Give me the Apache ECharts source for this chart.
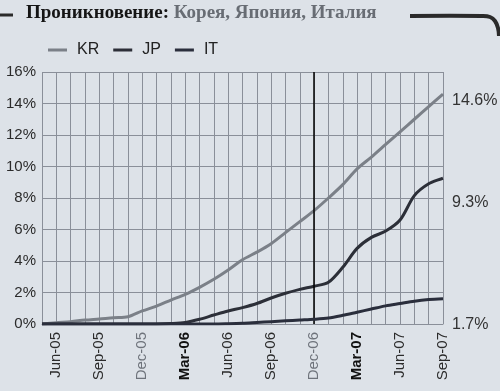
<!DOCTYPE html>
<html>
<head>
<meta charset="utf-8">
<script src="https://cdn.jsdelivr.net/npm/echarts@6/dist/echarts.min.js"></script>
<style>
html,body{margin:0;padding:0;background:#dde2e8;}
#chart{width:500px;height:391px;}
</style>
</head>
<body>
<div id="chart"></div>
<script>
const months = ['May-05','Jun-05','Jul-05','Aug-05','Sep-05','Oct-05','Nov-05','Dec-05',
  'Jan-06','Feb-06','Mar-06','Apr-06','May-06','Jun-06','Jul-06','Aug-06','Sep-06','Oct-06','Nov-06','Dec-06',
  'Jan-07','Feb-07','Mar-07','Apr-07','May-07','Jun-07','Jul-07','Aug-07','Sep-07'];
const krValues = [0,0.08,0.15,0.25,0.32,0.4,0.46,0.83,1.14,1.52,1.88,2.33,2.84,3.43,4.08,4.56,5.1,5.8,6.5,7.2,8.0,8.85,9.85,10.6,11.4,12.2,13.0,13.8,14.6];
const jpValues = [0,0,0,0,0,0,0,0,0,0.03,0.1,0.3,0.57,0.83,1.04,1.3,1.65,1.95,2.2,2.4,2.65,3.6,4.8,5.5,5.9,6.6,8.15,8.9,9.25];
const itValues = [0,0,0,0,0,0,0,0,0,0,0,0,0,0.02,0.05,0.1,0.15,0.2,0.25,0.3,0.38,0.55,0.75,0.95,1.15,1.3,1.45,1.55,1.6];
const seriesNames = ['KR','JP','IT'];
const endLabels = ['14.6%','9.3%','1.7%'];
const yTicks = [0,2,4,6,8,10,12,14,16];
const markerMonth = 'Dec-06';

const chart = echarts.init(document.getElementById('chart'), null, {renderer:'canvas'});
const FONT = "'Liberation Sans', Arial, sans-serif";
const lineCommon = {type:'line', showSymbol:false, smooth:0.3, lineStyle:{width:3}};
chart.setOption({
  backgroundColor:'#dde2e8',
  animation:false,
  textStyle:{fontFamily:FONT},
  legend:{
    left:43, top:37, icon:'rect', itemWidth:19, itemHeight:3, itemGap:14,
    textStyle:{fontSize:16, color:'#222', fontFamily:FONT, padding:[0,0,0,5]},
    data:seriesNames
  },
  grid:{left:42, right:57, top:72, bottom:67},
  xAxis:{
    type:'category', data:months, boundaryGap:false,
    axisLine:{show:true, lineStyle:{color:'#8a8f99', width:1}},
    axisTick:{show:false},
    splitLine:{show:true, interval:0, lineStyle:{color:'#8a8f99', width:1}},
    axisLabel:{
      interval:function(i){return i%3===1;},
      rotate:90, margin:8, fontSize:15, color:'#2b2b2b',
      formatter:function(v){
        if(v.indexOf('Dec')===0) return '{l|'+v+'}';
        if(v.indexOf('Mar')===0) return '{b|'+v+'}';
        return v;
      },
      rich:{
        l:{color:'#6e737b', fontSize:15, fontFamily:FONT},
        b:{color:'#111', fontSize:15, fontWeight:'bold', fontFamily:FONT}
      }
    }
  },
  yAxis:{
    type:'value', min:yTicks[0], max:yTicks[yTicks.length-1], interval:2,
    axisLine:{show:false}, axisTick:{show:false},
    splitLine:{show:true, lineStyle:{color:'#8a8f99', width:1}},
    axisLabel:{formatter:'{value}%', fontSize:15, color:'#2b2b2b', margin:6}
  },
  series:[
    Object.assign({}, lineCommon, {name:'KR', data:krValues, color:'#7b8088', lineStyle:{width:3, color:'#7b8088'}, z:3}),
    Object.assign({}, lineCommon, {name:'JP', data:jpValues, color:'#2c2f38', lineStyle:{width:3, color:'#2c2f38'}, z:4,
      markLine:{silent:true, symbol:'none', label:{show:false},
        lineStyle:{color:'#000', width:1.5, type:'solid'},
        data:[{xAxis:markerMonth}]}}),
    Object.assign({}, lineCommon, {name:'IT', data:itValues, color:'#2a2e3c', lineStyle:{width:3, color:'#2a2e3c'}, z:5})
  ],
  graphic:[
    {type:'text', left:26, top:4, style:{
      text:'{a|Проникновение: }{b|Корея, Япония, Италия}',
      rich:{
        a:{fontFamily:"'Liberation Serif', serif", fontWeight:'bold', fontSize:19, fill:'#151515'},
        b:{fontFamily:"'Liberation Serif', serif", fontWeight:'bold', fontSize:19, fill:'#686d74'}
      }}},
    {type:'line', shape:{x1:0,y1:15,x2:13,y2:15}, style:{stroke:'#2a2a2a', lineWidth:3}},
    {type:'polyline', shape:{points:[[410,16],[482,16],[490,17],[495,21],[498,28],[499,36]], smooth:0.4}, style:{stroke:'#2a2a2a', lineWidth:4, fill:null}},
    {type:'text', x:452, y:101, style:{text:endLabels[0], fontSize:16, fill:'#333', fontFamily:FONT, verticalAlign:'middle'}},
    {type:'text', x:452, y:203, style:{text:endLabels[1], fontSize:16, fill:'#333', fontFamily:FONT, verticalAlign:'middle'}},
    {type:'text', x:452, y:325, style:{text:endLabels[2], fontSize:16, fill:'#333', fontFamily:FONT, verticalAlign:'middle'}}
  ]
});
</script>
</body>
</html>
